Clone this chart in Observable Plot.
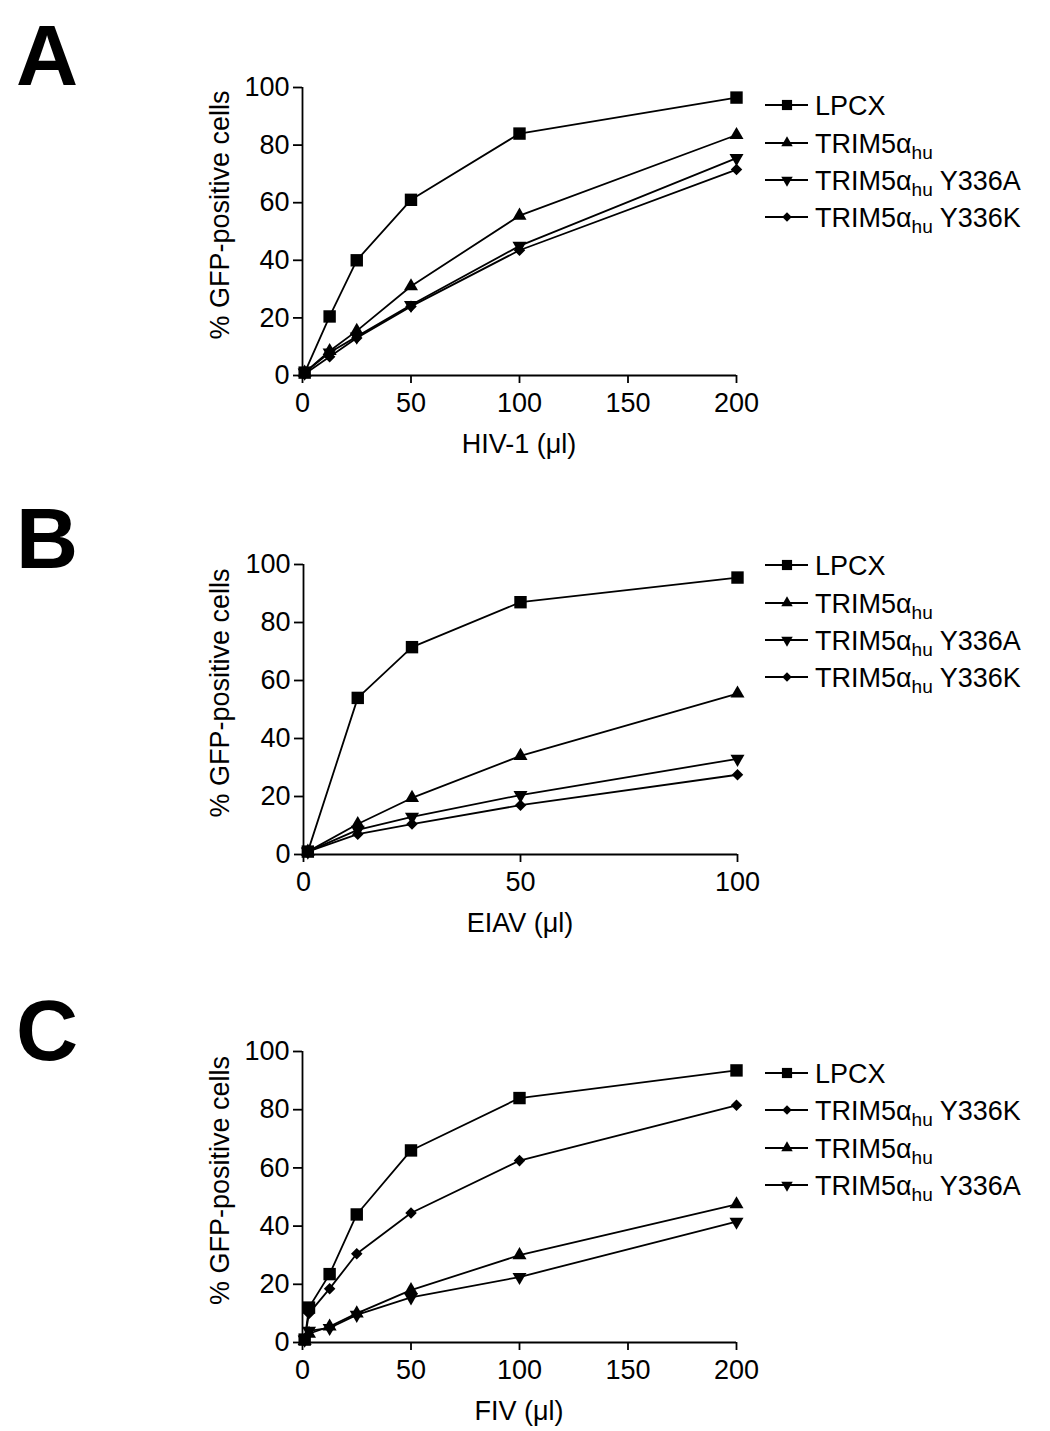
<!DOCTYPE html>
<html><head><meta charset="utf-8">
<script src="https://cdn.jsdelivr.net/npm/d3@7"></script>
<script src="https://cdn.jsdelivr.net/npm/@observablehq/plot@0.6"></script>
<style>
body{margin:0;background:#fff;}
#root{position:relative;width:1050px;height:1431px;font-family:"Liberation Sans",Arial,sans-serif;overflow:hidden;}
.panel{position:absolute;}
#overlay{position:absolute;left:0;top:0;pointer-events:none;}
</style></head><body><div id="root"></div>
<script>
// ---- data ----
const yTicks = [0, 20, 40, 60, 80, 100];

// Panel A: HIV-1
const hivDose   = [1, 12.5, 25, 50, 100, 200];
const hivLPCX   = [1, 20.5, 40, 61, 84, 96.5];
const hivTRIM   = [1, 8.5, 15.5, 31, 55.5, 83.5];
const hivY336A  = [1, 8, 13.5, 24.5, 45, 75.5];
const hivY336K  = [0.5, 6.5, 13, 24, 43.5, 71.5];
const hivTicks  = [0, 50, 100, 150, 200];

// Panel B: EIAV
const eiavDose  = [1, 12.5, 25, 50, 100];
const eiavLPCX  = [1, 54, 71.5, 87, 95.5];
const eiavTRIM  = [1, 10.5, 19.5, 34, 55.5];
const eiavY336A = [1, 8.5, 13, 20.5, 33];
const eiavY336K = [1, 7, 10.5, 17, 27.5];
const eiavTicks = [0, 50, 100];

// Panel C: FIV
const fivDose   = [1, 3, 12.5, 25, 50, 100, 200];
const fivLPCX   = [1, 12, 23.5, 44, 66, 84, 93.5];
const fivY336K  = [1, 10, 18.5, 30.5, 44.5, 62.5, 81.5];
const fivTRIM   = [0.5, 3, 5.5, 10, 18, 30, 47.5];
const fivY336A  = [1, 4, 5, 9.5, 15.5, 22.5, 41.5];
const fivTicks  = [0, 50, 100, 150, 200];

const seriesKeys = ["LPCX", "TRIM", "Y336A", "Y336K"];
const FONT = "'Liberation Sans', Arial, sans-serif";
const FS = 27;
const SW = 1.8;

const markerStyle = {
  LPCX:  {symbol: "square",   rotate: 0,   r: 7},
  TRIM:  {symbol: "triangle", rotate: 0,   r: 5.2},
  Y336A: {symbol: "triangle", rotate: 180, r: 5.2},
  Y336K: {symbol: "square",   rotate: 45,  r: 4.6}
};

const panels = [
  {letter: "A", letterY: 85, dose: hivDose, series: {LPCX: hivLPCX, TRIM: hivTRIM, Y336A: hivY336A, Y336K: hivY336K},
   xmax: 200, ticks: hivTicks, xlabel: "HIV-1 (\u03bcl)", top: 50, ml: 112, mr: 24, plotH: 288, mb: 95,
   legendOrder: ["LPCX", "TRIM", "Y336A", "Y336K"], legendY: [105, 143, 180, 217]},
  {letter: "B", letterY: 568, dose: eiavDose, series: {LPCX: eiavLPCX, TRIM: eiavTRIM, Y336A: eiavY336A, Y336K: eiavY336K},
   xmax: 100, ticks: eiavTicks, xlabel: "EIAV (\u03bcl)", top: 527, ml: 113, mr: 23, plotH: 290, mb: 95,
   legendOrder: ["LPCX", "TRIM", "Y336A", "Y336K"], legendY: [565, 603, 640, 677]},
  {letter: "C", letterY: 1060, dose: fivDose, series: {LPCX: fivLPCX, TRIM: fivTRIM, Y336A: fivY336A, Y336K: fivY336K},
   xmax: 200, ticks: fivTicks, xlabel: "FIV (\u03bcl)", top: 1014, ml: 112, mr: 24, plotH: 291, mb: 89,
   legendOrder: ["LPCX", "Y336K", "TRIM", "Y336A"], legendY: [1073, 1110, 1148, 1185]}
];

const root = document.getElementById("root");
const LEFT = 190, WIDTH = 570, MT = 37;

for (const p of panels) {
  const rows = [];
  for (const k of seriesKeys) p.series[k].forEach((v, i) => rows.push({series: k, dose: p.dose[i], value: v}));
  const height = MT + p.plotH + p.mb;
  const marks = [
    Plot.ruleY([0], {stroke: "black", strokeWidth: SW}),
    Plot.ruleX([0], {stroke: "black", strokeWidth: SW}),
    Plot.axisX({ticks: p.ticks, tickSize: 8, tickPadding: 9, label: null, fontSize: FS, strokeWidth: SW}),
    Plot.axisY({ticks: yTicks, tickSize: 9, tickPadding: 4, label: null, fontSize: FS, strokeWidth: SW}),
    Plot.line(rows, {x: "dose", y: "value", z: "series", stroke: "black", strokeWidth: SW})
  ];
  for (const k of seriesKeys) {
    const s = markerStyle[k];
    marks.push(Plot.dot(rows.filter(d => d.series === k), {x: "dose", y: "value", symbol: s.symbol, rotate: s.rotate, r: s.r, fill: "black", stroke: "none"}));
  }
  const chart = Plot.plot({
    width: WIDTH, height,
    marginTop: MT, marginBottom: p.mb, marginLeft: p.ml, marginRight: p.mr,
    x: {domain: [0, p.xmax]},
    y: {domain: [0, 100]},
    style: {fontFamily: FONT, fontSize: FS + "px", color: "black", background: "white", overflow: "visible"},
    marks
  });
  chart.classList.add("panel");
  chart.style.left = LEFT + "px";
  chart.style.top = p.top + "px";
  root.appendChild(chart);

  const svg = d3.select(chart);
  const plotCenterY = MT + p.plotH / 2;
  svg.append("text")
    .attr("transform", `translate(${229 - LEFT},${plotCenterY - 16}) rotate(-90)`)
    .attr("text-anchor", "middle").attr("font-size", FS).attr("fill", "black")
    .attr("font-family", FONT)
    .text("% GFP-positive cells");
  const xCenter = p.ml + (WIDTH - p.ml - p.mr) / 2;
  svg.append("text")
    .attr("x", xCenter).attr("y", MT + p.plotH + 78)
    .attr("text-anchor", "middle").attr("font-size", FS).attr("fill", "black")
    .attr("font-family", FONT)
    .text(p.xlabel);
}

// overlay: panel letters and legends
const ov = d3.select(root).append("svg").attr("id", "overlay").attr("width", 1050).attr("height", 1431)
  .attr("font-family", FONT);
const legendLabel = {
  LPCX: [["LPCX", 0]],
  TRIM: [["TRIM5\u03b1", 0], ["hu", 1]],
  Y336A: [["TRIM5\u03b1", 0], ["hu", 1], [" Y336A", 0]],
  Y336K: [["TRIM5\u03b1", 0], ["hu", 1], [" Y336K", 0]]
};
for (const p of panels) {
  ov.append("text").attr("x", 16).attr("y", p.letterY).attr("font-size", 86).attr("font-weight", "bold")
    .attr("fill", "black").text(p.letter);
  p.legendOrder.forEach((k, i) => {
    const cy = p.legendY[i];
    ov.append("line").attr("x1", 765).attr("x2", 808).attr("y1", cy).attr("y2", cy)
      .attr("stroke", "black").attr("stroke-width", SW);
    const s = markerStyle[k];
    const symType = s.symbol === "square" ? d3.symbolSquare : d3.symbolTriangle;
    const sz = Math.PI * (s.r * 0.82) ** 2;
    ov.append("path").attr("d", d3.symbol(symType, sz)())
      .attr("transform", `translate(787,${cy}) rotate(${s.rotate})`).attr("fill", "black");
    const t = ov.append("text").attr("x", 815).attr("y", cy + 9.5).attr("font-size", FS).attr("fill", "black");
    let sub = false;
    for (const [str, isSub] of legendLabel[k]) {
      const ts = t.append("tspan").text(str);
      if (isSub && !sub) { ts.attr("font-size", 19).attr("dy", 6); sub = true; }
      else if (!isSub && sub) { ts.attr("dy", -6); sub = false; }
    }
  });
}
</script></body></html>
